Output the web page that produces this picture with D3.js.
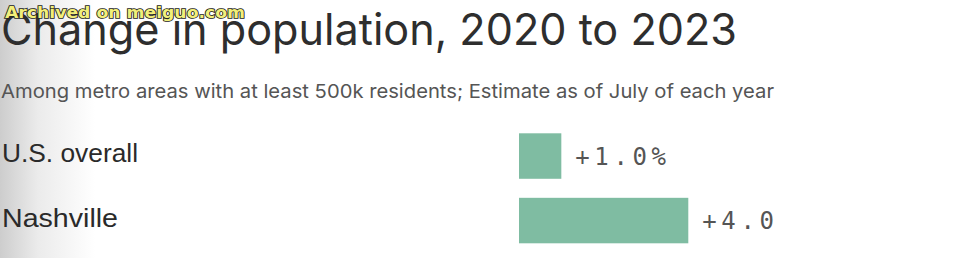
<!DOCTYPE html>
<html>
<head>
<meta charset="utf-8">
<script src="https://cdn.jsdelivr.net/npm/d3@7"></script>
<style>
  html, body { margin: 0; padding: 0; background: #fff; }
  svg { display: block; }
</style>
</head>
<body>
<div id="chart"></div>
<script>
const categories = ["U.S. overall", "Nashville"];
const values = [1.0, 4.0];
const valueLabels = ["+1.0%", "+4.0"];
const titleText = "Change in population, 2020 to 2023";
const subtitleText = "Among metro areas with at least 500k residents; Estimate as of July of each year";
const watermarkText = "Archived on meiguo.com";

const W = 972, H = 258;
const svg = d3.select("#chart").append("svg").attr("width", W).attr("height", H);

// photo shading on the left edge
const defs = svg.append("defs");
const grad = defs.append("linearGradient").attr("id", "shade").attr("x1", 0).attr("x2", 1).attr("y1", 0).attr("y2", 0);
grad.append("stop").attr("offset", 0).attr("stop-color", "#cdcdcd");
grad.append("stop").attr("offset", 0.4).attr("stop-color", "#ebebeb");
grad.append("stop").attr("offset", 1).attr("stop-color", "#ffffff");
svg.append("rect").attr("x", 0).attr("y", 0).attr("width", 95).attr("height", H).attr("fill", "url(#shade)");

// title
svg.append("text")
  .attr("x", 1).attr("y", 45)
  .attr("font-family", "Inter, 'Noto Sans', sans-serif")
  .attr("font-size", 44)
  .attr("fill", "#2e2e2e")
  .attr("textLength", 736).attr("lengthAdjust", "spacingAndGlyphs")
  .text(titleText);

// subtitle
svg.append("text")
  .attr("x", 1).attr("y", 98)
  .attr("font-family", "Inter, 'Noto Sans', sans-serif")
  .attr("font-size", 19)
  .attr("fill", "#555")
  .attr("textLength", 773).attr("lengthAdjust", "spacingAndGlyphs")
  .text(subtitleText);

// scales
const x = d3.scaleLinear().domain([0, 4]).range([519, 688.3]);
const y = d3.scaleBand().domain(categories).range([133.3, 243.3]).paddingInner(0.295).paddingOuter(0);

const rows = categories.map((c, i) => ({ c, v: values[i], label: valueLabels[i] }));
const catWidths = { "U.S. overall": 136, "Nashville": 116 };

svg.selectAll("rect.bar").data(rows).enter().append("rect")
  .attr("class", "bar")
  .attr("x", x(0))
  .attr("y", d => y(d.c))
  .attr("width", d => x(d.v) - x(0))
  .attr("height", y.bandwidth())
  .attr("fill", "#7fbca2");

svg.selectAll("text.cat").data(rows).enter().append("text")
  .attr("class", "cat")
  .attr("x", 2)
  .attr("y", d => y(d.c) + y.bandwidth() / 2 + 6)
  .attr("font-family", "'Liberation Sans', Arial, sans-serif")
  .attr("font-size", 25.5)
  .attr("fill", "#2a2a2a")
  .attr("textLength", d => catWidths[d.c]).attr("lengthAdjust", "spacingAndGlyphs")
  .text(d => d.c);

svg.selectAll("text.val").data(rows).enter().append("text")
  .attr("class", "val")
  .attr("x", d => x(d.v) + 14)
  .attr("y", d => y(d.c) + y.bandwidth() / 2 + 8.5)
  .attr("font-family", "'DejaVu Sans Mono', 'Liberation Mono', monospace")
  .attr("font-size", 24)
  .attr("letter-spacing", 4.6)
  .attr("fill", "#555")
  .text(d => d.label);

// watermark
svg.append("text")
  .attr("x", 5).attr("y", 18)
  .attr("font-family", "'DejaVu Sans', sans-serif")
  .attr("font-weight", "bold")
  .attr("font-size", 15)
  .attr("fill", "#f2ef7a")
  .attr("stroke", "#222")
  .attr("stroke-width", 1.6)
  .attr("paint-order", "stroke")
  .attr("textLength", 240).attr("lengthAdjust", "spacingAndGlyphs")
  .text(watermarkText);
</script>
</body>
</html>
